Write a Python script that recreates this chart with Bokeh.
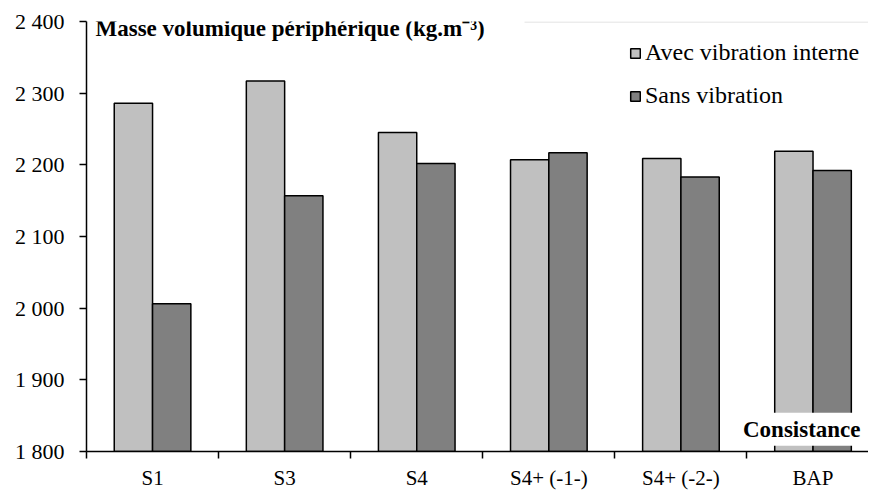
from bokeh.plotting import figure
from bokeh.models import (FixedTicker, Label, Legend, LegendItem, BoxAnnotation,
                          ColumnDataSource, Range1d)
from bokeh.embed import file_html
from bokeh.resources import INLINE

categories = ["S1", "S3", "S4", "S4+ (-1-)", "S4+ (-2-)", "BAP"]
avec = [2286, 2317, 2245, 2207, 2209, 2219]
sans = [2006, 2157, 2202, 2217, 2183, 2192]
y_ticks = [1800, 1900, 2000, 2100, 2200, 2300, 2400]
y_tick_labels = ["1 800", "1 900", "2 000", "2 100", "2 200", "2 300", "2 400"]
series_names = ["Avec vibration interne", "Sans vibration"]
title_text = "Masse volumique périphérique (kg.m\u207b\u00b3)"
axis_note = "Consistance"

SERIF = "Liberation Serif"
centers = [i + 0.5 for i in range(len(categories))]
bw = 0.29
src = ColumnDataSource(dict(
    x_avec=[c - bw / 2 for c in centers],
    x_sans=[c + bw / 2 for c in centers],
    avec=avec, sans=sans))

p = figure(frame_width=782, frame_height=430, x_range=Range1d(0, 5.92), y_range=Range1d(1800, 2400),
           output_backend="svg", toolbar_location=None,
           min_border_left=86, min_border_right=0, min_border_top=21, min_border_bottom=34)
p.outline_line_color = None
p.grid.visible = False
p.background_fill_color = "white"

r1 = p.vbar(x="x_avec", top="avec", bottom=1800, width=bw, source=src,
            fill_color="#c0c0c0", line_color="black", line_width=1.5)
r2 = p.vbar(x="x_sans", top="sans", bottom=1800, width=bw, source=src,
            fill_color="#808080", line_color="black", line_width=1.5)

# y axis
p.yaxis.ticker = FixedTicker(ticks=y_ticks, minor_ticks=[])
p.yaxis.major_label_overrides = {t: l for t, l in zip(y_ticks, y_tick_labels)}
p.yaxis.major_tick_out = 7
p.yaxis.major_tick_in = 0
p.yaxis.minor_tick_line_color = None
p.yaxis.major_label_standoff = 15
p.yaxis.major_label_text_font = SERIF
p.yaxis.major_label_text_font_size = "22px"
p.yaxis.major_label_text_color = "black"
p.yaxis.axis_line_width = 1.5
p.yaxis.major_tick_line_width = 1.5

# x axis
p.xaxis.ticker = FixedTicker(ticks=centers, minor_ticks=list(range(len(categories) + 1)))
p.xaxis.major_label_overrides = {c: n for c, n in zip(centers, categories)}
p.xaxis.major_tick_out = 0
p.xaxis.major_tick_in = 0
p.xaxis.minor_tick_out = 7
p.xaxis.minor_tick_in = 0
p.xaxis.minor_tick_line_width = 1.5
p.xaxis.major_label_standoff = 7
p.xaxis.major_label_text_font = SERIF
p.xaxis.major_label_text_font_size = "21px"
p.xaxis.major_label_text_color = "black"
p.xaxis.axis_line_width = 1.5

# light grey border line at top right
p.add_layout(BoxAnnotation(left=3.316, right=5.92, bottom=2398.6, top=2400,
                           fill_color="#d9d9d9", fill_alpha=1, line_color=None))

legend = Legend(items=[LegendItem(label=series_names[0], renderers=[r1]),
                       LegendItem(label=series_names[1], renderers=[r2])],
                location=(543, 342), orientation="vertical")
legend.padding = 0
legend.margin = 0
legend.spacing = 16
legend.glyph_width = 12
legend.glyph_height = 12
legend.label_height = 22
legend.label_standoff = 4
legend.label_text_font = SERIF
legend.label_text_font_size = "24px"
legend.label_text_color = "black"
legend.background_fill_alpha = 0
legend.border_line_color = None
p.add_layout(legend)

p.add_layout(Label(x=0.068, y=2390.7, text=title_text, text_baseline="middle",
                   text_font=SERIF, text_font_style="bold", text_font_size="23px",
                   text_color="black"))

p.add_layout(Label(x=5.89, y=1831, text=axis_note, text_baseline="middle",
                   text_align="right",
                   text_font=SERIF, text_font_style="bold", text_font_size="23px",
                   text_color="black", background_fill_color="white",
                   padding=4))

open("out.html", "w").write(file_html(p, INLINE))
